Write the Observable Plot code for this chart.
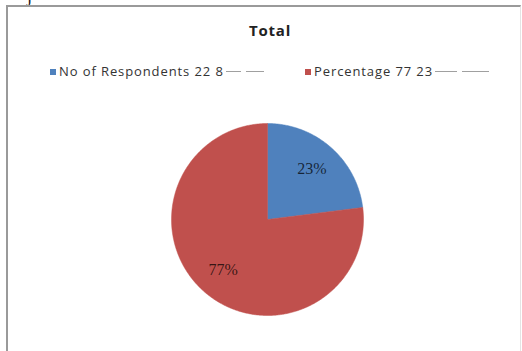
<!DOCTYPE html>
<html>
<head>
<meta charset="utf-8">
<script src="https://cdn.jsdelivr.net/npm/d3@7"></script>
<script src="https://cdn.jsdelivr.net/npm/@observablehq/plot@0.6"></script>
<style>
  html, body { margin: 0; padding: 0; background: #fff; }
  #wrap { position: relative; width: 522px; height: 351px; overflow: hidden; background: #fff; font-family: "Open Sans", sans-serif; }
  #frame { position: absolute; left: 6px; top: 5px; width: 512px; height: 400px; border-left: 2px solid #9a9a9a; border-top: 2px solid #9a9a9a; border-right: 1px solid #e4e4e4; }
  #title { position: absolute; left: 0; width: 540px; top: 20px; text-align: center; font-weight: bold; font-size: 15px; letter-spacing: 0.8px; color: #222; }
  .leg { position: absolute; top: 62px; font-size: 13px; letter-spacing: 0.9px; color: #333; white-space: nowrap; }
  .sw { display: inline-block; width: 6px; height: 6px; margin-right: 3px; vertical-align: 1px; }
  .dash { display: inline-block; height: 0; border-top: 1px solid #a0a0a0; vertical-align: 4px; }
  #pie { position: absolute; left: 167px; top: 119px; }
  #jj { position: absolute; left: 27px; top: -14px; font-family: "Liberation Serif", serif; font-size: 18px; color: #111; }
</style>
</head>
<body>
<div id="wrap">
  <div id="jj">j</div>
  <div id="frame"></div>
  <div id="title"></div>
  <div id="leg0" class="leg"></div>
  <div id="leg1" class="leg"></div>
  <div id="pie"></div>
</div>
<script>
const title = "Total";
const categories = ["No of Respondents", "Percentage"];
const legendLabels = ["No of Respondents 22 8", "Percentage 77 23"];
const values = [23, 77];
const percentLabels = ["23%", "77%"];
const colors = ["#4F81BD", "#C0504D"];

document.getElementById("title").textContent = title;
const legPos = [50, 305];
const dashW = [[15, 18], [22, 27]];
legendLabels.forEach((t, i) => {
  const el = document.getElementById("leg" + i);
  el.style.left = legPos[i] + "px";
  el.innerHTML = `<span class="sw" style="background:${colors[i]}"></span>${t}` +
    `<span class="dash" style="width:${dashW[i][0]}px;margin-left:2px"></span>` +
    `<span class="dash" style="width:${dashW[i][1]}px;margin-left:5px"></span>`;
});

// Pie geometry from data: start at 12 o'clock, clockwise
const total = d3.sum(values);
const pieRows = [];
const labelRows = [];
let acc = 0;
values.forEach((v, i) => {
  const a0 = acc / total * 2 * Math.PI;
  const a1 = (acc + v) / total * 2 * Math.PI;
  const n = Math.max(2, Math.ceil((a1 - a0) / 0.01));
  pieRows.push({cat: categories[i], x: 0, y: 0});
  for (let k = 0; k <= n; k++) {
    const a = a0 + (a1 - a0) * k / n;
    pieRows.push({cat: categories[i], x: Math.sin(a), y: Math.cos(a)});
  }
  pieRows.push({cat: categories[i], x: 0, y: 0});
  const am = (a0 + a1) / 2;
  labelRows.push({label: percentLabels[i], x: 0.7 * Math.sin(am), y: 0.7 * Math.cos(am)});
  acc += v;
});

const d = 1.0417;
const chart = Plot.plot({
  width: 200, height: 200,
  margin: 0,
  x: {domain: [-d, d], axis: null},
  y: {domain: [-d, d], axis: null},
  color: {domain: categories, range: colors},
  marks: [
    Plot.line(pieRows, {x: "x", y: "y", z: "cat", fill: "cat", stroke: "cat", strokeWidth: 0.5, curve: "linear"}),
    Plot.text(labelRows, {x: "x", y: "y", text: "label", fontFamily: "Liberation Serif", fontSize: 16, fill: "#000", fillOpacity: 0.72})
  ]
});
document.getElementById("pie").appendChild(chart);
</script>
</body>
</html>
